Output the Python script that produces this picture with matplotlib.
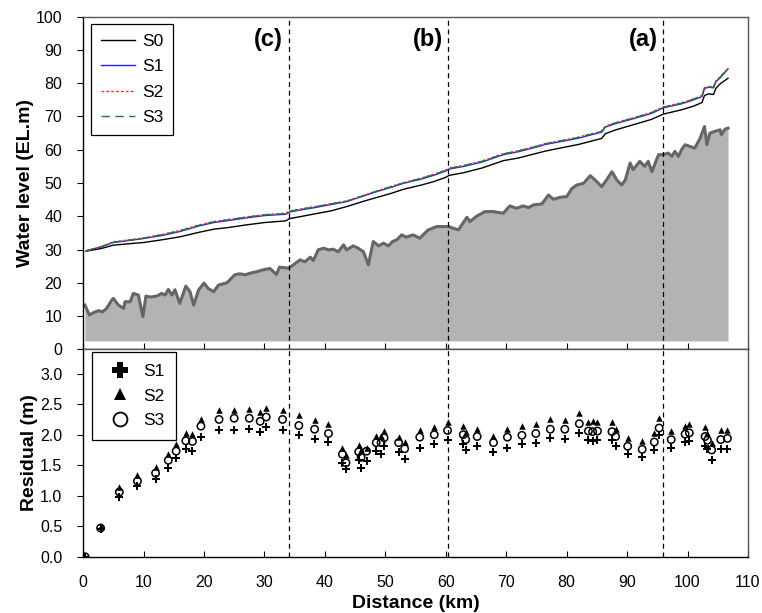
import matplotlib
matplotlib.use("Agg")
import matplotlib.pyplot as plt
from matplotlib.lines import Line2D

plt.rcParams['font.family'] = ['Liberation Sans', 'DejaVu Sans']

# ---------------- data ----------------
bed_km = [0.3, 1.05, 1.7, 2.5, 3.25, 3.9, 4.75, 5.0, 5.85, 6.7, 6.95, 7.8, 8.3, 9.15, 9.9, 10.4,
          11.1, 12.2, 13.0, 13.6, 14.1, 14.7, 15.2, 16.0, 17.0, 17.7, 18.3, 19.1, 20.0, 20.7,
          21.6, 22.4, 23.8, 25.1, 25.9, 26.8, 27.9, 28.7, 29.8, 30.9, 32.0, 32.5, 34.0, 34.8,
          35.9, 36.7, 37.6, 38.1, 38.9, 39.8, 40.6, 41.4, 42.2, 43.1, 43.6, 44.7, 45.5, 46.4,
          47.2, 48.0, 48.9, 49.7, 50.5, 51.2, 51.9, 52.7, 53.5, 54.6, 55.7, 57.1, 58.5, 60.4,
          62.1, 63.5, 64.0, 65.1, 66.5, 67.9, 69.5, 70.6, 71.7, 72.8, 73.7, 74.5, 75.9, 77.0,
          77.8, 78.9, 80.0, 80.9, 81.7, 82.8, 83.9, 85.0, 85.8, 86.6, 87.5, 88.3, 89.1, 89.7,
          90.5, 91.0, 92.1, 92.9, 93.5, 94.1, 95.2, 96.0, 96.8, 97.4, 97.9, 98.5, 99.0, 99.6,
          100.4, 101.2, 102.1, 102.8, 103.2, 103.7, 104.5, 105.4, 105.6, 106.2, 106.7]
bed_el = [13.3, 10.3, 11.0, 11.6, 11.3, 12.3, 14.8, 15.3, 13.3, 12.3, 14.3, 14.3, 16.8, 16.3, 9.8, 16.0,
          15.7, 16.0, 16.8, 16.3, 18.0, 16.3, 17.9, 13.8, 19.0, 17.3, 13.3, 17.8, 19.9, 18.3,
          17.3, 19.3, 20.0, 22.4, 22.7, 22.4, 23.0, 23.3, 23.9, 24.3, 22.5, 24.7, 24.4, 25.4,
          26.9, 26.3, 27.7, 26.7, 29.9, 30.4, 29.9, 30.1, 29.3, 31.4, 29.9, 31.1, 30.4, 29.3,
          25.4, 32.4, 31.1, 31.9, 31.1, 32.4, 32.9, 34.4, 33.7, 34.4, 33.4, 35.9, 36.9, 36.9,
          35.9, 39.7, 38.4, 40.0, 41.4, 41.4, 40.9, 43.1, 42.4, 43.1, 42.6, 43.4, 43.7, 46.4,
          45.1, 45.7, 45.9, 48.4, 49.4, 49.9, 52.2, 50.4, 48.9, 50.9, 53.4, 50.9, 49.4, 50.9,
          56.0, 54.0, 56.5, 55.0, 56.5, 53.4, 58.5, 58.5, 59.0, 58.0, 59.5, 58.0, 60.0, 61.5,
          61.0, 60.5, 63.5, 67.0, 61.5, 65.0, 65.5, 66.0, 64.5, 66.2, 66.5]
bed_base = 2.5

wl_km = [0.5, 3, 5, 8, 10, 13, 16, 19, 21.6, 24, 27, 30, 33.5, 34.2, 36, 38, 41, 43.6, 46.4, 48.9,
         51, 53, 56, 58, 60, 60.6, 63, 66, 69.5, 72, 75, 76.5, 79.5, 82, 85.8, 86.4, 88, 91, 94,
         96, 99, 101, 102.4, 102.8, 103.5, 104.3, 104.7, 105.4, 106.7]
wl_s0 = [29.5, 30.3, 31.3, 31.8, 32.1, 32.9, 33.8, 35.1, 36.1, 36.6, 37.4, 38.1, 38.6, 39.3, 39.9,
         40.6, 41.6, 42.9, 44.5, 45.8, 46.9, 48.1, 49.4, 50.4, 51.7, 52.3, 53.1, 54.5, 56.7, 57.5,
         58.9, 59.6, 60.7, 61.6, 63.4, 64.8, 65.9, 67.5, 69.1, 70.7, 72.0, 73.1, 74.2, 76.3, 76.8,
         76.6, 78.5, 79.8, 81.5]
wl_s1 = [29.6, 30.8, 32.1, 32.8, 33.3, 34.2, 35.4, 37.0, 38.1, 38.7, 39.5, 40.2, 40.6, 41.3, 41.9,
         42.5, 43.5, 44.4, 46.1, 47.6, 48.7, 49.9, 51.2, 52.3, 53.6, 54.2, 55.0, 56.3, 58.5, 59.4,
         60.8, 61.6, 62.6, 63.5, 65.3, 66.8, 67.8, 69.3, 70.9, 72.6, 73.8, 75.0, 76.0, 78.4, 78.8,
         78.6, 80.5, 81.6, 84.3]
wl_s2 = [29.6, 30.9, 32.3, 33.0, 33.5, 34.5, 35.7, 37.3, 38.4, 39.0, 39.8, 40.5, 40.9, 41.6, 42.2,
         42.8, 43.8, 44.6, 46.3, 47.8, 49.0, 50.1, 51.5, 52.6, 53.9, 54.5, 55.3, 56.6, 58.8, 59.7,
         61.1, 61.9, 62.9, 63.8, 65.6, 67.1, 68.1, 69.6, 71.2, 72.9, 74.1, 75.3, 76.3, 78.7, 79.0,
         78.9, 80.8, 81.9, 84.6]
wl_s3 = [29.6, 30.8, 32.2, 32.9, 33.4, 34.4, 35.6, 37.2, 38.3, 38.9, 39.7, 40.4, 40.8, 41.5, 42.1,
         42.7, 43.7, 44.5, 46.2, 47.7, 48.9, 50.0, 51.4, 52.5, 53.8, 54.4, 55.2, 56.5, 58.7, 59.6,
         61.0, 61.8, 62.8, 63.7, 65.5, 67.0, 68.0, 69.5, 71.1, 72.8, 74.0, 75.2, 76.2, 78.6, 78.9,
         78.8, 80.7, 81.8, 84.5]

res_km = [0.33, 2.9, 6.0, 9.0, 12.0, 14.1, 15.4, 17.0, 18.1, 19.5, 22.5, 25.0, 27.5, 29.3, 30.3,
          33.0, 35.7, 38.3, 40.6, 42.9, 43.5, 45.6, 46.0, 46.9, 48.5, 49.3, 49.8, 52.2, 53.2, 55.7,
          58.1, 60.3, 62.9, 63.3, 65.2, 67.9, 70.2, 72.6, 74.9, 77.3, 79.7, 82.1, 83.6, 84.3, 85.1,
          87.5, 88.1, 90.1, 92.5, 94.5, 95.3, 97.3, 99.6, 100.3, 102.9, 103.3, 104.0, 105.5, 106.6]
res_s1 = [0.0, 0.45, 0.98, 1.16, 1.27, 1.46, 1.61, 1.76, 1.73, 1.97, 2.08, 2.08, 2.09, 2.05, 2.12,
          2.08, 1.99, 1.93, 1.88, 1.54, 1.43, 1.58, 1.46, 1.57, 1.73, 1.69, 1.81, 1.72, 1.60, 1.79,
          1.84, 1.91, 1.85, 1.75, 1.81, 1.71, 1.79, 1.84, 1.87, 1.94, 1.93, 2.03, 1.91, 1.90, 1.91,
          1.91, 1.82, 1.68, 1.63, 1.75, 1.99, 1.79, 1.88, 1.90, 1.82, 1.77, 1.59, 1.77, 1.77]
res_s2 = [0.0, 0.50, 1.15, 1.34, 1.47, 1.68, 1.85, 2.02, 2.01, 2.26, 2.40, 2.41, 2.42, 2.37, 2.44,
          2.41, 2.32, 2.24, 2.18, 1.79, 1.66, 1.83, 1.75, 1.79, 1.98, 1.98, 2.06, 1.97, 1.88, 2.08,
          2.13, 2.21, 2.14, 2.05, 2.10, 1.98, 2.10, 2.14, 2.17, 2.25, 2.24, 2.35, 2.21, 2.22, 2.21,
          2.21, 2.10, 1.95, 1.90, 2.02, 2.28, 2.06, 2.14, 2.18, 2.13, 2.02, 1.87, 2.07, 2.08]
res_s3 = [0.0, 0.47, 1.06, 1.24, 1.37, 1.58, 1.73, 1.90, 1.89, 2.14, 2.25, 2.27, 2.27, 2.22, 2.29,
          2.25, 2.15, 2.09, 2.02, 1.68, 1.54, 1.72, 1.63, 1.73, 1.87, 1.87, 1.95, 1.87, 1.77, 1.96,
          2.00, 2.07, 2.00, 1.92, 1.97, 1.87, 1.96, 1.99, 2.02, 2.09, 2.09, 2.18, 2.06, 2.05, 2.06,
          2.05, 1.97, 1.81, 1.76, 1.88, 2.11, 1.92, 2.01, 2.03, 1.97, 1.91, 1.75, 1.92, 1.94]

section_km = [34.0, 60.4, 96.0]
section_lbl = ['(c)', '(b)', '(a)']

# ---------------- figure ----------------
fig = plt.figure(figsize=(7.62, 6.13), dpi=100)
L, R = 0.109, 0.9816
ax1 = fig.add_axes([L, 0.4302, R - L, 0.9728 - 0.4302])
ax2 = fig.add_axes([L, 0.0918, R - L, 0.4302 - 0.0918])

TICK = 11.5
LAB = 14

# top panel
ax1.fill_between(bed_km, bed_base, bed_el, color='#b3b3b3', linewidth=0, zorder=1)
ax1.plot(bed_km, bed_el, color='#666666', linewidth=2.2, zorder=2)
ax1.plot(wl_km, wl_s0, color='black', linewidth=1.0, label='S0', zorder=3)
ax1.plot(wl_km, wl_s1, color='#2222ee', linewidth=1.0, label='S1', zorder=4)
ax1.plot(wl_km, wl_s2, color='#ee3333', linewidth=1.0, linestyle=(0, (2, 1.5)), label='S2', zorder=5)
ax1.plot(wl_km, wl_s3, color='#1a7a3a', linewidth=1.0, linestyle=(0, (6, 4)), label='S3', zorder=6)

for xk, lb in zip(section_km, section_lbl):
    ax1.axvline(xk, color='black', linewidth=0.9, linestyle=(0, (4, 3)), zorder=7)
    ax2.axvline(xk, color='black', linewidth=0.9, linestyle=(0, (4, 3)), zorder=1)
    ax1.text(xk - 0.9, 93, lb, ha='right', va='center', fontsize=17, fontweight='bold')

ax1.set_xlim(0, 110)
ax1.set_ylim(0, 100)
ax1.set_yticks(range(0, 101, 10))
ax1.set_xticks(range(0, 111, 10))
ax1.tick_params(axis='x', direction='in', labelbottom=False, length=4)
ax1.tick_params(axis='y', direction='out', length=4.5, labelsize=TICK, pad=10.5)
ax1.set_ylabel('Water level (EL.m)', fontsize=LAB, fontweight='bold', labelpad=1.5)
leg1 = ax1.legend(loc='upper left', bbox_to_anchor=(0.012, 0.978), borderaxespad=0,
                  fontsize=12.5, handlelength=2.0, labelspacing=0.6, handletextpad=0.4,
                  fancybox=False, framealpha=1, edgecolor='black', borderpad=0.55)
leg1.get_frame().set_linewidth(0.9)

# bottom panel (open circles underneath, so coincident points merge into solid dots)
ax2.scatter(res_km, res_s3, marker='o', s=28, facecolors='none', edgecolors='black',
            linewidths=1.1, zorder=2, label='S3')
ax2.scatter(res_km, res_s2, marker='^', s=22, color='black', linewidths=0, zorder=3, label='S2')
ax2.scatter(res_km, res_s1, marker='P', s=28, color='black', linewidths=0, zorder=4, label='S1')
ax2.set_xlim(0, 110)
ax2.set_ylim(0, 3.4)
ax2.set_yticks([0.0, 0.5, 1.0, 1.5, 2.0, 2.5, 3.0])
ax2.set_yticklabels(['0.0', '0.5', '1.0', '1.5', '2.0', '2.5', '3.0'])
ax2.set_xticks(range(0, 111, 10))
ax2.tick_params(axis='x', direction='in', length=4, labelsize=TICK, pad=13)
ax2.tick_params(axis='y', direction='out', length=4.5, labelsize=TICK, pad=10.5)
ax2.set_ylabel('Residual (m)', fontsize=LAB, fontweight='bold', labelpad=1.5)
ax2.set_xlabel('Distance (km)', fontsize=LAB, fontweight='bold', labelpad=3.5)

h = [Line2D([], [], marker='P', color='black', linestyle='none', markersize=11, markeredgewidth=0),
     Line2D([], [], marker='^', color='black', linestyle='none', markersize=9, markeredgewidth=0),
     Line2D([], [], marker='o', markerfacecolor='white', markeredgecolor='black',
            linestyle='none', markersize=10, markeredgewidth=1.3)]
leg2 = ax2.legend(h, ['S1', 'S2', 'S3'], loc='upper left', bbox_to_anchor=(0.013, 0.985),
                  borderaxespad=0, fontsize=12.5, handlelength=2.0, labelspacing=0.55,
                  handletextpad=0.3, fancybox=False, framealpha=1, edgecolor='black',
                  borderpad=0.65)
leg2.get_frame().set_linewidth(0.9)

for ax in (ax1, ax2):
    for s in ('top', 'right'):
        ax.spines[s].set_color('#555555')
    for sp in ax.spines.values():
        sp.set_linewidth(1.0)

fig.savefig('out.png', dpi=100)
